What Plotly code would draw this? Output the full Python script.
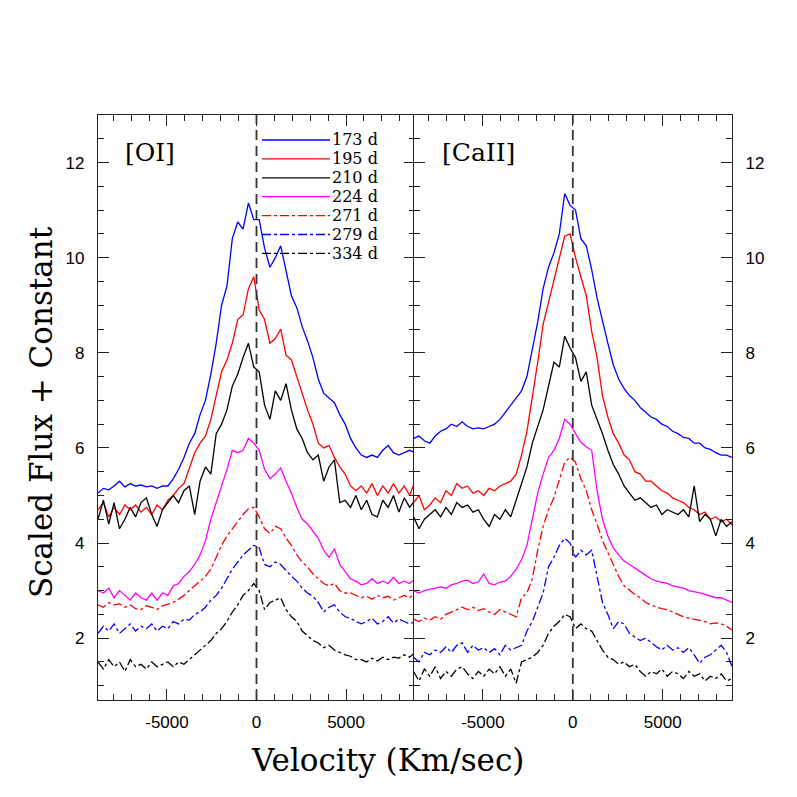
import plotly.graph_objects as go

# ---------------- data ----------------
VELOCITY = [-8850, -8550, -8250, -7950, -7650, -7350, -7050, -6750, -6450, -6150,
            -5850, -5550, -5250, -4950, -4650, -4350, -4050, -3750, -3450, -3150,
            -2850, -2550, -2250, -1950, -1650, -1350, -1050, -750, -450, -150,
            150, 450, 750, 1050, 1350, 1650, 1950, 2250, 2550, 2850,
            3150, 3450, 3750, 4050, 4350, 4650, 4950, 5250, 5550, 5850,
            6150, 6450, 6750, 7050, 7350, 7650, 7950, 8250, 8550, 8850]

EPOCHS = ["173 d", "195 d", "210 d", "224 d", "271 d", "279 d", "334 d"]
COLORS = ["#0000ff", "#ff0000", "#000000", "#ff00ff", "#ff0000", "#0000ff", "#000000"]
DASHES = ["solid", "solid", "solid", "solid", "dashdot", "dashdot", "dashdot"]

PANEL_LABELS = ["[OI]", "[CaII]"]
X_TICKVALS = [-5000, 0, 5000]
X_TICKTEXT = ["-5000", "0", "5000"]
Y_TICKVALS = [2, 4, 6, 8, 10, 12]
Y_TICKTEXT = ["2", "4", "6", "8", "10", "12"]

# [OI] panel
OI_173 = [5.05, 5.15, 5.12, 5.2, 5.3, 5.18, 5.25, 5.2, 5.22, 5.18,
          5.2, 5.15, 5.2, 5.2, 5.35, 5.55, 5.8, 6.1, 6.3, 6.7,
          7.0, 7.55, 8.2, 9.0, 9.4, 10.4, 10.75, 10.6, 11.15, 10.8,
          10.8, 10.2, 9.8, 10.0, 10.25, 9.7, 9.2, 8.95, 8.55, 8.25,
          7.9, 7.45, 7.15, 7.05, 6.95, 6.7, 6.5, 6.2, 6.0, 5.85,
          5.8, 5.85, 5.8, 5.95, 6.05, 5.9, 5.85, 5.9, 5.95, 5.9]
OI_195 = [4.7, 4.85, 4.55, 4.75, 4.6, 4.8, 4.7, 4.8, 4.65, 4.75,
          4.6, 4.8, 4.7, 4.9, 5.0, 5.15, 5.25, 5.6, 5.9, 6.1,
          6.25, 6.6, 7.1, 7.6, 7.85, 8.2, 8.7, 8.8, 9.35, 9.6,
          8.9, 8.7, 8.2, 8.3, 8.5, 7.95, 7.85, 7.5, 7.1, 6.8,
          6.5, 6.1, 6.0, 6.05, 5.8, 5.6, 5.45, 5.2, 5.1, 5.2,
          5.05, 5.25, 5.0, 5.2, 5.05, 5.25, 5.05, 5.2, 5.0, 5.3]
OI_210 = [4.5, 4.9, 4.4, 4.85, 4.3, 4.5, 4.75, 4.55, 4.85, 4.95,
          4.6, 4.35, 4.7, 4.85, 5.0, 4.85, 5.1, 5.2, 4.6, 5.3,
          5.6, 5.45, 6.3, 6.5, 6.8, 7.3, 7.55, 7.9, 8.2, 7.7,
          7.6, 6.9, 6.6, 7.2, 7.0, 7.35, 6.8, 6.4, 6.2, 5.9,
          5.75, 5.85, 5.3, 5.6, 5.75, 4.85, 4.9, 4.75, 5.0, 4.7,
          4.9, 4.6, 4.55, 4.9, 4.75, 5.0, 4.65, 4.95, 4.75, 4.9]
OI_224 = [3.0, 2.95, 3.05, 2.85, 3.0, 2.9, 2.8, 2.95, 2.85, 2.8,
          2.95, 2.8, 2.95, 2.9, 3.1, 3.15, 3.3, 3.4, 3.55, 3.75,
          4.05, 4.5, 4.85, 5.15, 5.55, 5.95, 5.9, 5.95, 6.2, 6.1,
          5.95, 5.55, 5.35, 5.45, 5.58, 5.3, 5.05, 4.75, 4.5, 4.4,
          4.25, 4.1, 3.85, 3.7, 3.88, 3.55, 3.4, 3.25, 3.2, 3.12,
          3.15, 3.25, 3.15, 3.2, 3.15, 3.28, 3.15, 3.2, 3.15, 3.25]
OI_271 = [2.7, 2.65, 2.75, 2.7, 2.72, 2.65, 2.7, 2.62, 2.6, 2.68,
          2.65, 2.6, 2.68, 2.72, 2.75, 2.82, 2.9, 3.0, 3.1, 3.2,
          3.3, 3.45, 3.7, 3.95, 4.15, 4.3, 4.45, 4.6, 4.72, 4.75,
          4.55, 4.3, 4.2, 4.35, 4.3, 4.1, 3.95, 3.75, 3.6, 3.5,
          3.35, 3.25, 3.15, 3.1, 3.15, 3.0, 2.95, 2.95, 2.9, 2.85,
          2.88, 2.82, 2.9, 2.85, 2.88, 2.8, 2.85, 2.9, 2.85, 2.95]
OI_279 = [2.1, 2.25, 2.15, 2.3, 2.1, 2.2, 2.3, 2.15, 2.25, 2.2,
          2.3, 2.15, 2.25, 2.2, 2.35, 2.3, 2.4, 2.38, 2.5, 2.55,
          2.65, 2.8, 2.9, 3.05, 3.25, 3.45, 3.6, 3.75, 3.85, 3.95,
          3.9, 3.55, 3.5, 3.6, 3.55, 3.42, 3.3, 3.2, 3.05, 2.95,
          2.88, 2.75, 2.55, 2.65, 2.7, 2.55, 2.45, 2.42, 2.35, 2.3,
          2.35, 2.42, 2.3, 2.35, 2.45, 2.32, 2.4, 2.35, 2.3, 2.35]
OI_334 = [1.5, 1.35, 1.55, 1.4, 1.5, 1.3, 1.55, 1.4, 1.45, 1.35,
          1.5, 1.4, 1.45, 1.5, 1.4, 1.5, 1.45, 1.55, 1.65, 1.75,
          1.85, 1.95, 2.1, 2.2, 2.35, 2.55, 2.7, 2.9, 3.0, 3.15,
          3.0, 2.6, 2.75, 2.8, 2.85, 2.6, 2.45, 2.35, 2.15, 2.05,
          1.95, 1.9, 1.8, 1.85, 1.75, 1.7, 1.65, 1.62, 1.55, 1.55,
          1.5, 1.58, 1.52, 1.6, 1.55, 1.6, 1.58, 1.65, 1.6, 1.7]

# [CaII] panel
CAII_173 = [6.2, 6.25, 6.15, 6.1, 6.25, 6.35, 6.4, 6.5, 6.45, 6.55,
            6.45, 6.4, 6.42, 6.4, 6.45, 6.5, 6.6, 6.75, 6.9, 7.05,
            7.2, 7.5, 8.1, 8.65, 9.35, 9.8, 10.1, 10.5, 11.35, 11.1,
            11.0, 10.4, 10.25, 9.75, 9.15, 8.65, 8.2, 7.75, 7.45, 7.25,
            7.1, 7.0, 6.85, 6.75, 6.65, 6.6, 6.5, 6.45, 6.35, 6.3,
            6.22, 6.2, 6.1, 6.1, 6.0, 5.97, 5.9, 5.85, 5.85, 5.8]
CAII_195 = [4.85, 5.0, 4.7, 4.8, 4.95, 4.85, 5.1, 5.0, 5.25, 5.15,
            5.2, 5.05, 5.1, 5.0, 5.15, 5.1, 5.2, 5.25, 5.3, 5.45,
            5.85, 6.35, 7.05, 7.8, 8.6, 9.05, 9.5, 9.95, 10.45, 10.5,
            10.0, 9.6, 9.2, 8.45, 7.9, 7.1, 6.65, 6.3, 6.1, 5.85,
            5.75, 5.5, 5.45, 5.3, 5.3, 5.2, 5.1, 5.05, 4.95, 4.9,
            4.85, 4.75, 4.7, 4.6, 4.65, 4.5, 4.55, 4.45, 4.5, 4.38]
CAII_210 = [4.55, 4.3, 4.5, 4.6, 4.7, 4.55, 4.75, 4.6, 4.85, 4.75,
            4.8, 4.65, 4.7, 4.5, 4.35, 4.6, 4.5, 4.7, 4.55, 4.9,
            5.25, 5.6, 6.1, 6.45, 6.8, 7.3, 7.8, 7.7, 8.35, 8.1,
            7.9, 7.4, 7.6, 6.9, 6.6, 6.3, 5.95, 5.65, 5.45, 5.2,
            5.05, 4.9, 4.95, 4.85, 4.75, 4.8, 4.6, 4.7, 4.65, 4.6,
            4.7, 4.55, 5.2, 4.45, 4.6, 4.5, 4.15, 4.5, 4.35, 4.45]
CAII_224 = [3.0, 2.95, 3.0, 3.02, 3.05, 3.08, 3.05, 3.12, 3.15, 3.2,
            3.22, 3.15, 3.18, 3.35, 3.15, 3.12, 3.18, 3.2, 3.3, 3.45,
            3.65, 3.95, 4.5, 5.05, 5.45, 5.8, 5.95, 6.2, 6.6, 6.5,
            6.3, 6.12, 6.02, 5.95, 5.1, 4.5, 4.15, 3.9, 3.75, 3.62,
            3.55, 3.48, 3.4, 3.32, 3.25, 3.2, 3.18, 3.15, 3.1, 3.08,
            3.05, 3.0, 2.98, 2.95, 2.92, 2.88, 2.85, 2.85, 2.8, 2.75]
CAII_271 = [2.4, 2.35, 2.42, 2.38, 2.45, 2.4, 2.5, 2.55, 2.6, 2.65,
            2.6, 2.65, 2.58, 2.62, 2.55, 2.5, 2.6, 2.55, 2.5, 2.45,
            2.85, 2.95, 3.25, 3.85, 4.35, 4.7, 4.95, 5.3, 5.7, 5.8,
            5.7, 5.35, 5.1, 4.7, 4.4, 4.05, 3.8, 3.55, 3.3, 3.1,
            3.0, 2.92, 2.85, 2.75, 2.7, 2.65, 2.62, 2.6, 2.55, 2.5,
            2.45, 2.42, 2.4, 2.38, 2.35, 2.3, 2.32, 2.3, 2.25, 2.17]
CAII_279 = [1.6, 1.5, 1.7, 1.65, 1.75, 1.7, 1.82, 1.7, 1.85, 1.9,
            1.7, 1.85, 1.75, 1.8, 1.7, 1.78, 1.65, 1.85, 1.75, 1.8,
            1.85, 2.15, 2.35, 2.65, 2.95, 3.5, 3.7, 3.95, 4.1, 4.0,
            3.7, 3.85, 3.75, 3.85, 3.3, 2.75, 2.5, 2.2, 2.35, 2.3,
            2.1, 2.02, 1.95, 2.0, 1.9, 1.82, 1.75, 1.85, 1.75, 1.8,
            1.7, 1.8, 1.65, 1.47, 1.6, 1.65, 1.75, 1.85, 1.7, 1.4]
CAII_334 = [1.3, 1.1, 1.35, 1.2, 1.4, 1.15, 1.3, 1.2, 1.35, 1.4,
            1.25, 1.15, 1.3, 1.2, 1.35, 1.25, 1.4, 1.2, 1.35, 1.05,
            1.5, 1.55, 1.6, 1.7, 1.85, 2.1, 2.25, 2.35, 2.5, 2.45,
            2.2, 2.3, 2.2, 2.15, 1.95, 1.75, 1.6, 1.55, 1.45, 1.5,
            1.4, 1.45, 1.3, 1.2, 1.3, 1.25, 1.35, 1.2, 1.3, 1.25,
            1.15, 1.3, 1.2, 1.25, 1.1, 1.2, 1.15, 1.25, 1.1, 1.15]

OI_SERIES = [OI_173, OI_195, OI_210, OI_224, OI_271, OI_279, OI_334]
CAII_SERIES = [CAII_173, CAII_195, CAII_210, CAII_224, CAII_271, CAII_279, CAII_334]

# ---------------- figure ----------------
SERIF = "DejaVu Serif"
SANS = "Liberation Sans"
AX = "#222222"
LW = 1.4

FIG_W, FIG_H = 789, 789          # page body adds an 8px margin
M_L, M_R, M_T, M_B = 90, 65, 107, 97
PW = FIG_W - M_L - M_R           # plot-area width in px
PH = FIG_H - M_T - M_B           # plot-area height in px
SCR_X0, SCR_Y1 = 98, 700         # screen px of plot-area left / bottom


def px_x(sx):
    return (sx - SCR_X0) / PW


def px_y(sy):
    return (SCR_Y1 - sy) / PH


fig = go.Figure()
for i, name in enumerate(EPOCHS):
    fig.add_trace(go.Scatter(x=VELOCITY, y=OI_SERIES[i], mode="lines", name=name,
                             line=dict(color=COLORS[i], width=1.3, dash=DASHES[i]),
                             xaxis="x", yaxis="y", showlegend=False))
for i, name in enumerate(EPOCHS):
    fig.add_trace(go.Scatter(x=VELOCITY, y=CAII_SERIES[i], mode="lines", name=name,
                             line=dict(color=COLORS[i], width=1.3, dash=DASHES[i]),
                             xaxis="x2", yaxis="y2", showlegend=False))

xcommon = dict(range=[-8850, 8850], tickmode="array", tickvals=X_TICKVALS, ticktext=X_TICKTEXT,
               ticks="inside", ticklen=11, tickwidth=1.3, tickcolor=AX,
               minor=dict(dtick=1000, tick0=0, ticks="inside", ticklen=6, tickwidth=1.1, tickcolor=AX),
               showline=True, linecolor=AX, linewidth=LW, mirror="ticks",
               showgrid=False, zeroline=False,
               tickfont=dict(family=SANS, size=17, color="#000"), ticklabelstandoff=6)
ycommon = dict(range=[0.7, 13.0], tickmode="array", tickvals=Y_TICKVALS, ticktext=Y_TICKTEXT,
               ticks="inside", ticklen=11, tickwidth=1.3, tickcolor=AX,
               minor=dict(dtick=0.5, tick0=0, ticks="inside", ticklen=6, tickwidth=1.1, tickcolor=AX),
               showline=True, linecolor=AX, linewidth=LW, mirror="ticks",
               showgrid=False, zeroline=False,
               tickfont=dict(family=SANS, size=17, color="#000"), ticklabelstandoff=9)

split = 0.5 - LW / PW  # let the two inner frame lines overlap

fig.update_layout(
    width=FIG_W, height=FIG_H, autosize=False,
    margin=dict(l=M_L, r=M_R, t=M_T, b=M_B),
    paper_bgcolor="white", plot_bgcolor="white",
    showlegend=False,
    xaxis=dict(domain=[0, 0.5], anchor="y", **xcommon),
    xaxis2=dict(domain=[split, 1], anchor="y2", **xcommon),
    yaxis=dict(domain=[0, 1], anchor="x", side="left", **ycommon),
    yaxis2=dict(domain=[0, 1], anchor="x2", side="right", matches="y", **ycommon),
)

# zero-velocity dashed reference lines
for xr in ["x", "x2"]:
    fig.add_shape(type="line", xref=xr, yref="y domain", x0=0, x1=0, y0=0, y1=1,
                  line=dict(color="#333333", width=1.8, dash="10px,6px"), layer="above")

# panel labels
fig.add_annotation(text=PANEL_LABELS[0], xref="paper", yref="paper", x=px_x(123), y=px_y(152),
                   xanchor="left", yanchor="middle", showarrow=False,
                   font=dict(family=SERIF, size=25, color="#000"))
fig.add_annotation(text=PANEL_LABELS[1], xref="paper", yref="paper", x=px_x(440), y=px_y(152),
                   xanchor="left", yanchor="middle", showarrow=False,
                   font=dict(family=SERIF, size=25, color="#000"))

# manual legend (line samples + labels) in the left panel
leg_x0, leg_x1 = px_x(262), px_x(330)
for i, name in enumerate(EPOCHS):
    yy = px_y(140 + 18.9 * i)
    fig.add_shape(type="line", xref="paper", yref="paper", x0=leg_x0, x1=leg_x1, y0=yy, y1=yy,
                  line=dict(color=COLORS[i], width=1.3, dash=DASHES[i]))
    fig.add_annotation(text=name, xref="paper", yref="paper", x=px_x(331), y=yy,
                       xanchor="left", yanchor="middle", showarrow=False,
                       borderpad=0,
                       font=dict(family=SERIF, size=16, color="#000"))

# axis titles
fig.add_annotation(text="Velocity (Km/sec)", xref="paper", yref="paper",
                   x=px_x(387), y=px_y(760), xanchor="center", yanchor="middle",
                   showarrow=False, font=dict(family=SERIF, size=31, color="#000"))
fig.add_annotation(text="Scaled Flux + Constant", xref="paper", yref="paper",
                   x=px_x(41), y=px_y(412), xanchor="center", yanchor="middle",
                   textangle=-90, showarrow=False, font=dict(family=SERIF, size=31, color="#000"))

fig.write_html("out.html")
